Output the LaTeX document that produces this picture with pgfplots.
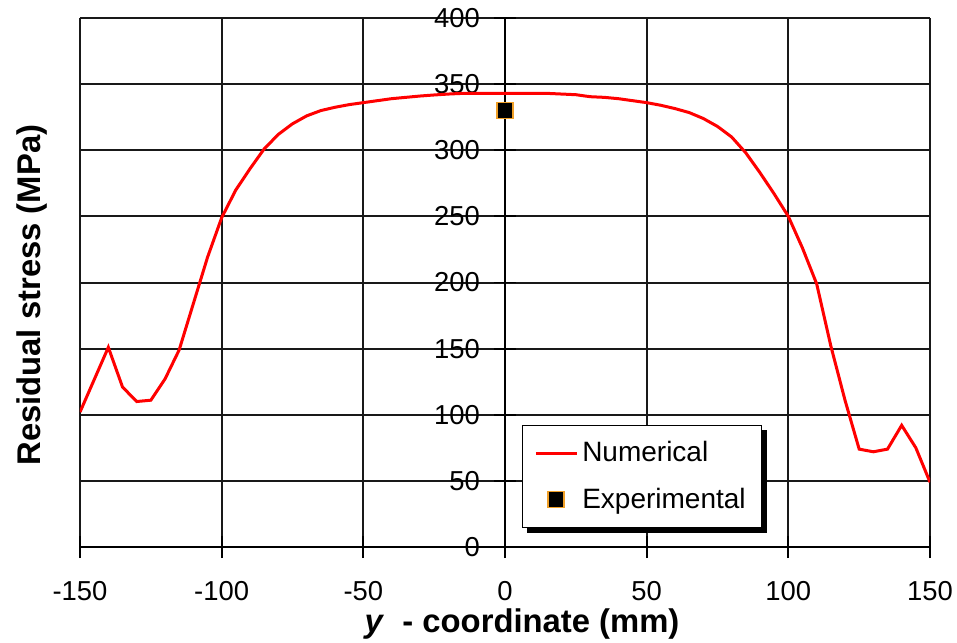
\documentclass[border=0pt]{standalone}
\usepackage{fontspec}
\setmainfont{Liberation Sans}
\usepackage{pgfplots}
\pgfplotsset{compat=1.18}
\definecolor{expor}{RGB}{240,160,40}
\pgfplotsset{
  linelegend/.style={legend image code/.code={\draw[##1] (0pt,0pt) -- (20.5pt,0pt);}},
  marklegend/.style={legend image code/.code={\draw[##1] plot coordinates {(10.25pt,0pt)}; \path (0pt,0pt) (20.5pt,0pt);}},
}
\pgfplotstableread{
x y
-150 102
-140 151
-135 121
-130 110
-125 111
-120 127
-115 149
-110 184
-105 219
-100 249
-95 270
-90 286
-85 301
-80 312
-75 320
-70 326
-65 330
-60 332.5
-55 334.5
-50 336
-45 337.5
-40 339
-35 340
-30 341
-25 341.8
-20 342.5
-15 343
-10 343
-5 343
0 343
5 343
10 343
15 343
20 342.5
25 342
30 340.5
35 340
40 339
45 337.5
50 336
55 334
60 331.5
65 328.5
70 324
75 318
80 310
85 298
90 283
95 267
100 250
105 226
110 199
115 152
120 111
125 74
130 72
135 74
140 92
145 75
150 49
}\numdata
\begin{document}
\begin{tikzpicture}
\begin{axis}[
  at={(0,0)}, anchor=south west,
  scale only axis, width=425pt, height=264.5pt,
  xmin=-150, xmax=150, ymin=0, ymax=400,
  axis x line=bottom, axis y line=middle,
  hide obscured x ticks=false, hide obscured y ticks=false,
  axis line style={-, black, line width=0.9pt},
  xtick={-150,-100,-50,0,50,100,150},
  xticklabels={-150,-100,-50,0,50,100,150},
  ytick={0,50,100,150,200,250,300,350,400},
  yticklabels={0,50,100,150,200,250,300,350,400},
  grid=major,
  major grid style={black!90, line width=1pt},
  tick align=center, major tick length=11pt,
  tick style={black, line width=0.9pt},
  ticklabel style={font=\fontsize{13.7}{16}\selectfont},
  xticklabel style={anchor=north, yshift=-8pt},
  yticklabel style={anchor=east, xshift=-3.5pt},
  xlabel={\textit{y}\ \ - coordinate (mm)},
  ylabel={Residual stress (MPa)},
  label style={font=\bfseries\fontsize{16.4}{19}\selectfont},
  xlabel style={at={(axis description cs:0.52,0)}, anchor=base, yshift=-42.5pt},
  ylabel style={at={(axis description cs:-0.047,0.476)}, anchor=base, rotate=90},
  legend cell align=left,
  legend style={name=leg, at={(rel axis cs:0.5196,0.2306)}, anchor=north west,
    draw=black, line width=0.6pt, fill=white,
    font=\fontsize{14}{16}\selectfont,
    inner xsep=6pt, inner ysep=6pt, row sep=7.5pt},
]
\addplot[red, line width=1.5pt, no marks, linelegend]
  table[x=x, y=y] {\numdata};
\addlegendentry{Numerical}
\addplot[only marks, mark=square*, mark size=4pt,
  mark options={fill=black, draw=expor, line width=0.9pt}, marklegend]
  coordinates {(0,330)};
\addlegendentry{Experimental\hspace{4pt}}
\end{axis}
\fill[black] ([yshift=-2.5pt]leg.north east) rectangle ([xshift=2.5pt,yshift=-2.5pt]leg.south east);
\fill[black] ([xshift=2.5pt]leg.south west) rectangle ([xshift=2.5pt,yshift=-2.5pt]leg.south east);
\pgfresetboundingbox
\path[use as bounding box] (-40pt,-47.5pt) rectangle (438.5pt,273.5pt);
\end{tikzpicture}
\end{document}
